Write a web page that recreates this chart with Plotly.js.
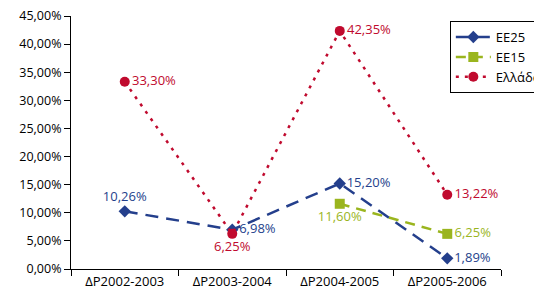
<!DOCTYPE html>
<html><head><meta charset="utf-8">
<script src="https://cdn.plot.ly/plotly-3.0.1.min.js"></script>
<style>html,body{margin:0;padding:0;overflow:hidden;background:#fff}</style>
</head><body>
<div id="chart" style="width:534px;height:290px"></div>
<script>
const categories = ["ΔP2002-2003", "ΔP2003-2004", "ΔP2004-2005", "ΔP2005-2006"];
const seriesNames = ["EE25", "EE15", "Ελλάδα"];
const ee25 = [10.26, 6.98, 15.20, 1.89];
const ee15 = [null, null, 11.60, 6.25];
const greece = [33.30, 6.25, 42.35, 13.22];
const yTickVals = [0, 5, 10, 15, 20, 25, 30, 35, 40, 45];

const fmt = v => v == null ? "" : v.toFixed(2).replace(".", ",") + "%";
const font = "Open Sans, Noto Sans, sans-serif";
const blue = "#243f8c", green = "#9ab51e", red = "#c00a2e";

const traces = [
  {
    name: seriesNames[0], x: categories, y: ee25,
    mode: "lines+markers+text",
    line: {color: blue, width: 2.5, dash: "13px,8px"},
    marker: {symbol: "diamond", size: 9.5, color: blue},
    text: ee25.map(fmt),
    textposition: ["top center", "middle right", "middle right", "middle right"],
    textfont: {color: blue, size: 13, family: font},
    cliponaxis: false
  },
  {
    name: seriesNames[1], x: categories, y: ee15,
    mode: "lines+markers+text",
    line: {color: green, width: 2.5, dash: "10px,7px"},
    marker: {symbol: "square", size: 10, color: green},
    text: ee15.map(fmt),
    textposition: ["bottom center", "bottom center", "bottom center", "middle right"],
    textfont: {color: green, size: 13, family: font},
    connectgaps: false,
    cliponaxis: false
  },
  {
    name: seriesNames[2], x: categories, y: greece,
    mode: "lines+markers+text",
    line: {color: red, width: 2.5, dash: "3px,6px"},
    marker: {symbol: "circle", size: 10, color: red},
    text: greece.map(fmt),
    textposition: ["middle right", "bottom center", "middle right", "middle right"],
    textfont: {color: red, size: 13, family: font},
    cliponaxis: false
  }
];

const layout = {
  width: 534, height: 290,
  margin: {l: 71, r: 33, t: 16, b: 21, autoexpand: false},
  paper_bgcolor: "#fff", plot_bgcolor: "#fff",
  font: {family: font, size: 12, color: "#000"},
  separators: ",.",
  showlegend: true,
  legend: {
    x: 0.881, y: 0.98, xanchor: "left", yanchor: "top",
    bordercolor: "#000", borderwidth: 1, bgcolor: "#fff",
    font: {size: 13, family: font, color: "#000"},
    tracegroupgap: 0, itemwidth: 35
  },
  xaxis: {
    type: "category", range: [-0.5, 3.5],
    showline: true, linecolor: "#000", linewidth: 1,
    ticks: "outside", tickson: "boundaries", ticklen: 6, tickcolor: "#000",
    showgrid: false, zeroline: false,
    tickfont: {size: 13, family: font, color: "#000"}
  },
  yaxis: {
    range: [0, 45], tickvals: yTickVals,
    ticktext: yTickVals.map(v => v.toFixed(2).replace(".", ",") + "%"),
    showline: true, linecolor: "#000", linewidth: 1,
    ticks: "outside", ticklen: 6, tickcolor: "#000",
    showgrid: false, zeroline: false,
    tickfont: {size: 12.5, family: font, color: "#000"}
  }
};

Plotly.newPlot("chart", traces, layout, {staticPlot: true, displayModeBar: false});
</script>
</body></html>
